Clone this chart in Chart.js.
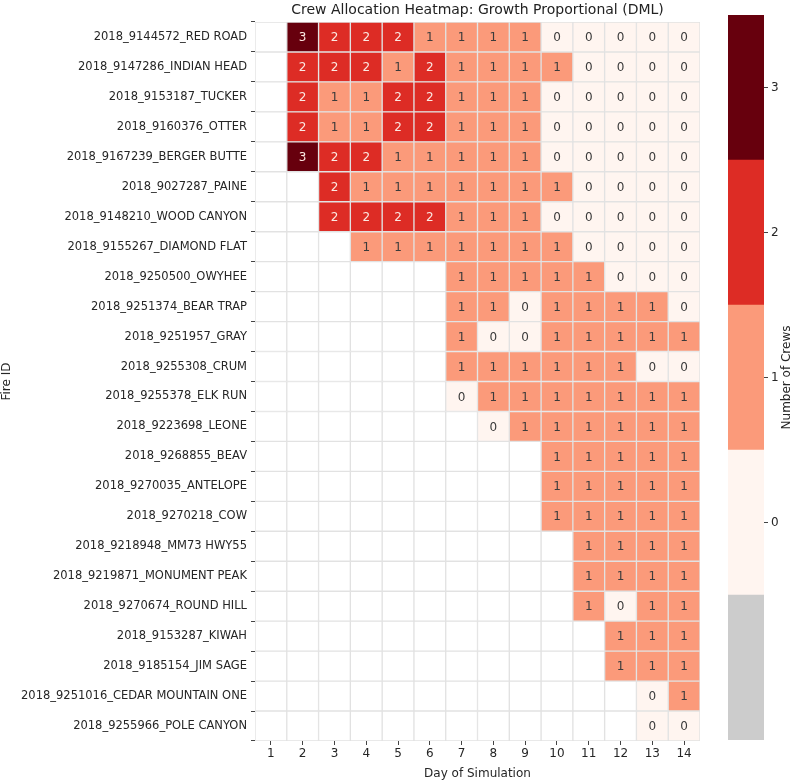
<!DOCTYPE html>
<html>
<head>
<meta charset="utf-8">
<script src="https://cdn.jsdelivr.net/npm/chart.js@4"></script>
<style>
    html, body { margin: 0; padding: 0; background: #ffffff; }
    #wrap { position: relative; width: 793px; height: 781px; }
    #heat { position: absolute; left: 0; top: 0; }
    #cbar { position: absolute; left: 700px; top: 0; }
</style>
</head>
<body>
<div id="wrap">
    <canvas id="heat" width="793" height="781"></canvas>
    <canvas id="cbar" width="93" height="781"></canvas>
</div>
<script>
// Crew allocation by fire (rows) and day of simulation (columns); null = fire not active
const fireIds = [
    '2018_9144572_RED ROAD', '2018_9147286_INDIAN HEAD', '2018_9153187_TUCKER',
    '2018_9160376_OTTER', '2018_9167239_BERGER BUTTE', '2018_9027287_PAINE',
    '2018_9148210_WOOD CANYON', '2018_9155267_DIAMOND FLAT', '2018_9250500_OWYHEE',
    '2018_9251374_BEAR TRAP', '2018_9251957_GRAY', '2018_9255308_CRUM',
    '2018_9255378_ELK RUN', '2018_9223698_LEONE', '2018_9268855_BEAV',
    '2018_9270035_ANTELOPE', '2018_9270218_COW', '2018_9218948_MM73 HWY55',
    '2018_9219871_MONUMENT PEAK', '2018_9270674_ROUND HILL', '2018_9153287_KIWAH',
    '2018_9185154_JIM SAGE', '2018_9251016_CEDAR MOUNTAIN ONE', '2018_9255966_POLE CANYON'
];

const days = [1, 2, 3, 4, 5, 6, 7, 8, 9, 10, 11, 12, 13, 14];

const _ = null;
const crewsByFire = [
    [_, 3, 2, 2, 2, 1, 1, 1, 1, 0, 0, 0, 0, 0],
    [_, 2, 2, 2, 1, 2, 1, 1, 1, 1, 0, 0, 0, 0],
    [_, 2, 1, 1, 2, 2, 1, 1, 1, 0, 0, 0, 0, 0],
    [_, 2, 1, 1, 2, 2, 1, 1, 1, 0, 0, 0, 0, 0],
    [_, 3, 2, 2, 1, 1, 1, 1, 1, 0, 0, 0, 0, 0],
    [_, _, 2, 1, 1, 1, 1, 1, 1, 1, 0, 0, 0, 0],
    [_, _, 2, 2, 2, 2, 1, 1, 1, 0, 0, 0, 0, 0],
    [_, _, _, 1, 1, 1, 1, 1, 1, 1, 0, 0, 0, 0],
    [_, _, _, _, _, _, 1, 1, 1, 1, 1, 0, 0, 0],
    [_, _, _, _, _, _, 1, 1, 0, 1, 1, 1, 1, 0],
    [_, _, _, _, _, _, 1, 0, 0, 1, 1, 1, 1, 1],
    [_, _, _, _, _, _, 1, 1, 1, 1, 1, 1, 0, 0],
    [_, _, _, _, _, _, 0, 1, 1, 1, 1, 1, 1, 1],
    [_, _, _, _, _, _, _, 0, 1, 1, 1, 1, 1, 1],
    [_, _, _, _, _, _, _, _, _, 1, 1, 1, 1, 1],
    [_, _, _, _, _, _, _, _, _, 1, 1, 1, 1, 1],
    [_, _, _, _, _, _, _, _, _, 1, 1, 1, 1, 1],
    [_, _, _, _, _, _, _, _, _, _, 1, 1, 1, 1],
    [_, _, _, _, _, _, _, _, _, _, 1, 1, 1, 1],
    [_, _, _, _, _, _, _, _, _, _, 1, 0, 1, 1],
    [_, _, _, _, _, _, _, _, _, _, _, 1, 1, 1],
    [_, _, _, _, _, _, _, _, _, _, _, 1, 1, 1],
    [_, _, _, _, _, _, _, _, _, _, _, _, 0, 1],
    [_, _, _, _, _, _, _, _, _, _, _, _, 0, 0]
];

// colour bar levels (-1 is the grey "no value" band)
const levels = [-1, 0, 1, 2, 3];
const levelColors = ['#cccccc', '#fff5f0', '#fb9a7a', '#dd2c25', '#67000d'];
const cbarTicks = [0, 1, 2, 3];

const FONT = '"DejaVu Sans", sans-serif';

function cellColor(v) {
    if (v === null) return '#ffffff';
    return levelColors[levels.indexOf(v)];
}

function textColor(v) {
    return v >= 2 ? '#fbe9e3' : '#3b3b3b';
}

const dayDatasets = days.map((day, col) => ({
    label: 'Day ' + day,
    data: fireIds.map(() => [day - 0.5, day + 0.5]),
    values: crewsByFire.map(row => row[col]),
    backgroundColor: crewsByFire.map(row => cellColor(row[col])),
    borderColor: '#e2e2e2',
    borderWidth: 1,
    borderSkipped: false,
    grouped: false,
    barPercentage: 1,
    categoryPercentage: 1
}));

const cellLabels = {
    id: 'cellLabels',
    afterDatasetsDraw(chart) {
        const ctx = chart.ctx;
        ctx.save();
        ctx.font = '12px ' + FONT;
        ctx.textAlign = 'center';
        ctx.textBaseline = 'middle';
        chart.data.datasets.forEach((ds, di) => {
            chart.getDatasetMeta(di).data.forEach((bar, i) => {
                const v = ds.values[i];
                if (v === null) return;
                ctx.fillStyle = textColor(v);
                ctx.fillText(String(v), (bar.x + bar.base) / 2, bar.y + 1);
            });
        });
        // heading
        const area = chart.chartArea;
        ctx.font = '14px ' + FONT;
        ctx.fillStyle = '#222222';
        ctx.fillText('Crew Allocation Heatmap: Growth Proportional (DML)', (area.left + area.right) / 2, 10);
        ctx.restore();
    }
};

new Chart(document.getElementById('heat'), {
    type: 'bar',
    data: { labels: fireIds, datasets: dayDatasets },
    options: {
        indexAxis: 'y',
        responsive: false,
        animation: false,
        events: [],
        layout: { padding: { top: 22, right: 93, left: 0, bottom: 0 } },
        plugins: {
            legend: { display: false },
            tooltip: { enabled: false },
            title: { display: false }
        },
        scales: {
            x: {
                type: 'linear',
                min: 0.5,
                max: 14.5,
                afterBuildTicks: scale => { scale.ticks = days.map(d => ({ value: d })); },
                afterFit: scale => { scale.height = 40; },
                border: { display: false },
                grid: { drawOnChartArea: false, drawTicks: true, tickLength: 4, color: '#444444' },
                ticks: { color: '#262626', font: { family: FONT, size: 12 }, padding: 2, maxRotation: 0 },
                title: {
                    display: true,
                    text: 'Day of Simulation',
                    color: '#262626',
                    font: { family: FONT, size: 12 },
                    padding: { top: 0, bottom: 0 }
                }
            },
            y: {
                type: 'category',
                afterFit: scale => { scale.width = 255; },
                border: { display: false },
                grid: { drawOnChartArea: false, drawTicks: true, tickLength: 4, color: '#444444' },
                ticks: { color: '#262626', font: { family: FONT, size: 11.5 }, padding: 4, autoSkip: false },
                title: {
                    display: true,
                    text: 'Fire ID',
                    color: '#262626',
                    font: { family: FONT, size: 12 },
                    padding: { top: 0, bottom: 0 }
                }
            }
        }
    },
    plugins: [cellLabels]
});

const cbarTitle = {
    id: 'cbarTitle',
    afterDraw(chart) {
        const ctx = chart.ctx;
        const area = chart.chartArea;
        ctx.save();
        ctx.translate(87, (area.top + area.bottom) / 2);
        ctx.rotate(-Math.PI / 2);
        ctx.font = '12px ' + FONT;
        ctx.fillStyle = '#262626';
        ctx.textAlign = 'center';
        ctx.textBaseline = 'middle';
        ctx.fillText('Number of Crews', 0, 0);
        ctx.restore();
    }
};

new Chart(document.getElementById('cbar'), {
    type: 'bar',
    data: {
        labels: ['crews'],
        datasets: levels.map((lv, i) => ({
            data: [[lv - 0.5, lv + 0.5]],
            backgroundColor: levelColors[i],
            borderWidth: 0,
            grouped: false,
            barPercentage: 1,
            categoryPercentage: 1
        }))
    },
    options: {
        responsive: false,
        animation: false,
        events: [],
        layout: { padding: { top: 15, right: 0, left: 28, bottom: 41 } },
        plugins: { legend: { display: false }, tooltip: { enabled: false } },
        scales: {
            x: { display: false },
            y: {
                position: 'right',
                min: -1.5,
                max: 3.5,
                afterBuildTicks: scale => { scale.ticks = cbarTicks.map(v => ({ value: v })); },
                afterFit: scale => { scale.width = 29; },
                border: { display: false },
                grid: { drawOnChartArea: false, drawTicks: true, tickLength: 4, color: '#444444' },
                ticks: { color: '#262626', font: { family: FONT, size: 12 }, padding: 3 }
            }
        }
    },
    plugins: [cbarTitle]
});
</script>
</body>
</html>
